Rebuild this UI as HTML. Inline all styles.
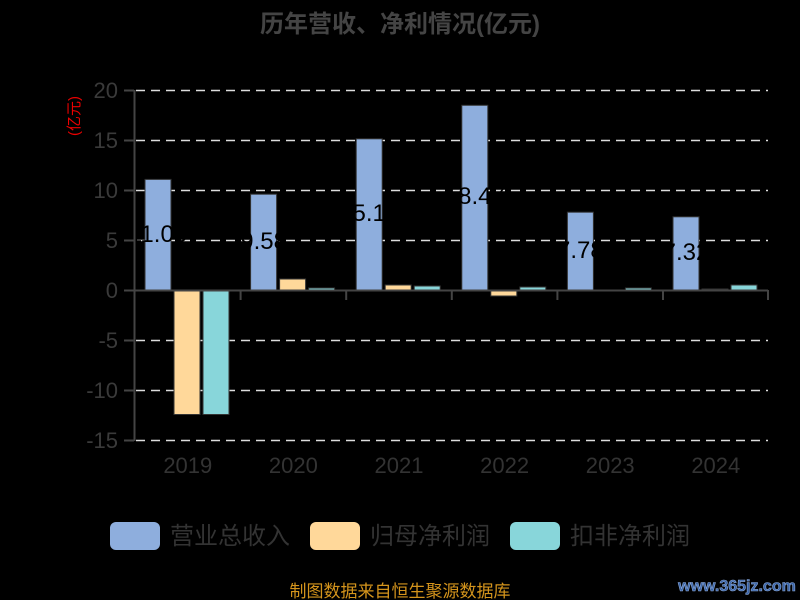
<!DOCTYPE html>
<html><head><meta charset="utf-8"><style>
html,body{margin:0;padding:0;background:#000;}
svg{display:block;font-family:"Liberation Sans","Noto Sans CJK SC",sans-serif;}
</style></head><body>
<svg width="800" height="600" viewBox="0 0 800 600">
<rect width="800" height="600" fill="#000"/>
<text x="400" y="32" text-anchor="middle" font-size="24" font-weight="bold" fill="#444">历年营收、净利情况(亿元)</text>
<text transform="translate(79,116) rotate(-90)" text-anchor="middle" font-size="15" fill="#e00">(亿元)</text>
<g stroke="#ddd" stroke-width="1.5" stroke-dasharray="9,6">
<line x1="136" y1="90.5" x2="768" y2="90.5"/>
<line x1="136" y1="140.5" x2="768" y2="140.5"/>
<line x1="136" y1="190.5" x2="768" y2="190.5"/>
<line x1="136" y1="240.5" x2="768" y2="240.5"/>
<line x1="136" y1="340.5" x2="768" y2="340.5"/>
<line x1="136" y1="390.5" x2="768" y2="390.5"/>
<line x1="136" y1="440.5" x2="768" y2="440.5"/>
</g>
<g font-size="22" fill="#3a3a3a" text-anchor="end">
<text x="118" y="98">20</text><text x="118" y="148">15</text><text x="118" y="198">10</text><text x="118" y="248">5</text><text x="118" y="298">0</text><text x="118" y="348">-5</text><text x="118" y="398">-10</text><text x="118" y="448">-15</text>
</g>
<g stroke-width="1" stroke="#333">
<rect x="145" y="179.4" width="26" height="110.6" fill="#8eaedd"/>
<rect x="174" y="290" width="26" height="124.5" fill="#ffd89a"/>
<rect x="203" y="290" width="26" height="124.5" fill="#88d6da"/>
<rect x="250.6" y="194.2" width="26" height="95.8" fill="#8eaedd"/>
<rect x="279.6" y="279" width="26" height="11" fill="#ffd89a"/>
<rect x="308.6" y="288" width="26" height="2" fill="#88d6da"/>
<rect x="356.2" y="138.8" width="26" height="151.2" fill="#8eaedd"/>
<rect x="385.2" y="285" width="26" height="5" fill="#ffd89a"/>
<rect x="414.2" y="286" width="26" height="4" fill="#88d6da"/>
<rect x="461.8" y="105.3" width="26" height="184.7" fill="#8eaedd"/>
<rect x="490.8" y="290" width="26" height="6" fill="#ffd89a"/>
<rect x="519.8" y="287" width="26" height="3" fill="#88d6da"/>
<rect x="567.4" y="212.2" width="26" height="77.8" fill="#8eaedd"/>
<rect x="625.4" y="288" width="26" height="2" fill="#88d6da"/>
<rect x="673" y="216.8" width="26" height="73.2" fill="#8eaedd"/>
<rect x="702" y="289" width="26" height="1" fill="#ffd89a"/>
<rect x="731" y="285" width="26" height="5" fill="#88d6da"/>
</g>
<g font-size="24" fill="#000" text-anchor="middle">
<text x="158" y="242">11.06</text>
<text x="263.6" y="249">9.58</text>
<text x="369.2" y="221">15.12</text>
<text x="474.8" y="204">18.47</text>
<text x="580.4" y="258">7.78</text>
<text x="686" y="260">7.32</text>
</g>
<g stroke="#444" stroke-width="2" fill="none">
<line x1="134.5" y1="90" x2="134.5" y2="441"/>
<line x1="124" y1="90.5" x2="134" y2="90.5"/><line x1="124" y1="140.5" x2="134" y2="140.5"/><line x1="124" y1="190.5" x2="134" y2="190.5"/><line x1="124" y1="240.5" x2="134" y2="240.5"/><line x1="124" y1="290.5" x2="134" y2="290.5"/><line x1="124" y1="340.5" x2="134" y2="340.5"/><line x1="124" y1="390.5" x2="134" y2="390.5"/><line x1="124" y1="440.5" x2="134" y2="440.5"/>
<line x1="134" y1="290.5" x2="768" y2="290.5"/>
<line x1="240.6" y1="290" x2="240.6" y2="300"/><line x1="346.2" y1="290" x2="346.2" y2="300"/><line x1="451.8" y1="290" x2="451.8" y2="300"/><line x1="557.4" y1="290" x2="557.4" y2="300"/><line x1="663" y1="290" x2="663" y2="300"/><line x1="768" y1="290" x2="768" y2="300"/>
</g>
<g font-size="22" fill="#333" text-anchor="middle">
<text x="187.8" y="473">2019</text><text x="293.4" y="473">2020</text><text x="399" y="473">2021</text><text x="504.6" y="473">2022</text><text x="610.2" y="473">2023</text><text x="715.8" y="473">2024</text>
</g>
<rect x="110" y="522" width="50" height="28" rx="6" fill="#8eaedd"/>
<rect x="310" y="522" width="50" height="28" rx="6" fill="#ffd89a"/>
<rect x="510" y="522" width="50" height="28" rx="6" fill="#88d6da"/>
<g font-size="24" fill="#333">
<text x="170" y="544">营业总收入</text><text x="370" y="544">归母净利润</text><text x="570" y="544">扣非净利润</text>
</g>
<text x="400" y="597" text-anchor="middle" font-size="17" fill="#d4941c">制图数据来自恒生聚源数据库</text>
<text x="737" y="591" text-anchor="middle" font-size="16" font-weight="bold" fill="#3a64a8" stroke="#8aa8d8" stroke-width="0.6">www.365jz.com</text>
</svg>
</body></html>
